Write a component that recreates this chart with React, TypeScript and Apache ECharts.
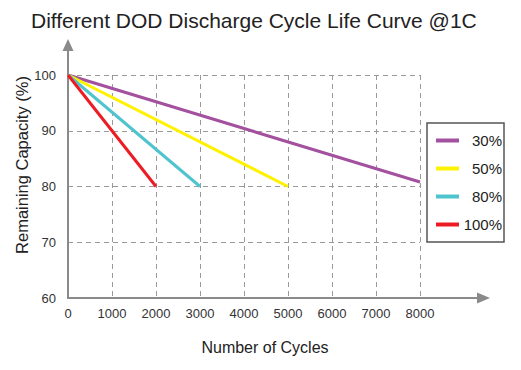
import React, { useEffect, useRef } from "react";
import * as echarts from "echarts";

const seriesNames = ["30%", "50%", "80%", "100%"];
const startCycles = [0, 0, 0, 0];
const startCapacity = [100, 100, 100, 100];
const endCycles = [8000, 5000, 3000, 2000];
const endCapacity = [80.8, 80, 80, 80];
const seriesColors = ["#a3509f", "#fff200", "#4fc4cf", "#ec1c24"];
const xMin = 0;
const xMax = 8000;
const xStep = 1000;
const yMin = 60;
const yMax = 100;
const yStep = 10;

const FONT = "'Liberation Sans', Arial, sans-serif";

export default function App() {
  const ref = useRef<HTMLDivElement>(null);
  useEffect(() => {
    if (!ref.current) return;
    const chart = echarts.init(ref.current, undefined, { renderer: "svg" });
    const option: any = {
      animation: false,
      backgroundColor: "#ffffff",
      textStyle: { fontFamily: FONT },
      title: {
        text: "Different DOD Discharge Cycle Life Curve @1C",
        left: 26,
        top: 5,
        textStyle: { fontSize: 21, fontWeight: "normal", color: "#222", fontFamily: FONT },
      },
      grid: { left: 68, right: 101, top: 75, bottom: 72 },
      legend: {
        orient: "vertical",
        left: 427,
        top: 123,
        padding: [10, 2, 10, 9],
        itemGap: 13,
        itemWidth: 23,
        itemHeight: 4,
        icon: "rect",
        backgroundColor: "#fff",
        borderColor: "#555",
        borderWidth: 1.5,
        borderRadius: 0,
        data: seriesNames,
        formatter: (n: string) => `{t|${n}}`,
        textStyle: {
          fontFamily: FONT,
          fontSize: 15,
          color: "#222",
          rich: { t: { width: 38, align: "right", fontSize: 15, lineHeight: 16, fontFamily: FONT, color: "#222" } },
        },
      },
      xAxis: {
        type: "value",
        min: xMin,
        max: xMax,
        interval: xStep,
        axisLine: { show: true, onZero: false, lineStyle: { color: "#8a8a8a", width: 2 } },
        axisTick: { show: false },
        axisLabel: { margin: 9, fontSize: 13, color: "#333", fontFamily: FONT, formatter: (v: number) => String(v) },
        splitLine: { show: true, lineStyle: { color: "#9a9a9a", type: [5, 4], width: 1 } },
      },
      yAxis: {
        type: "value",
        min: yMin,
        max: yMax,
        interval: yStep,
        axisLine: { show: true, onZero: false, lineStyle: { color: "#8a8a8a", width: 2 } },
        axisTick: { show: false },
        axisLabel: { margin: 12, fontSize: 13, color: "#333", fontFamily: FONT },
        splitLine: { show: true, lineStyle: { color: "#9a9a9a", type: [5, 4], width: 1 } },
      },
      series: seriesNames.map((name, i) => ({
        name,
        type: "line",
        symbol: "none",
        z: 5,
        lineStyle: { color: seriesColors[i], width: 3 },
        itemStyle: { color: seriesColors[i] },
        data: [
          [startCycles[i], startCapacity[i]],
          [endCycles[i], endCapacity[i]],
        ],
      })),
    };
    chart.setOption(option);
    const o = chart.convertToPixel({ gridIndex: 0 }, [xMin, yMin]) as number[];
    const tr = chart.convertToPixel({ gridIndex: 0 }, [xMax, yMax]) as number[];
    const ax = "#8a8a8a";
    const xTip = o[0] + 422;
    const yTip = o[1] - 259;
    chart.setOption({
      graphic: [
        { type: "line", shape: { x1: tr[0], y1: o[1], x2: xTip - 12, y2: o[1] }, style: { stroke: ax, lineWidth: 2 }, z: 10 },
        { type: "polygon", shape: { points: [[xTip, o[1]], [xTip - 13, o[1] - 5.5], [xTip - 13, o[1] + 5.5]] }, style: { fill: ax }, z: 10 },
        { type: "line", shape: { x1: o[0], y1: tr[1], x2: o[0], y2: yTip + 11 }, style: { stroke: ax, lineWidth: 2 }, z: 10 },
        { type: "polygon", shape: { points: [[o[0], yTip], [o[0] - 5.5, yTip + 12], [o[0] + 5.5, yTip + 12]] }, style: { fill: ax }, z: 10 },
        {
          type: "text",
          x: 22,
          y: 165,
          rotation: Math.PI / 2,
          style: { text: "Remaining Capacity (%)", font: `16.5px ${FONT}`, fill: "#222", align: "center", verticalAlign: "middle" },
        },
        {
          type: "text",
          x: 265,
          y: 347,
          style: { text: "Number of Cycles", font: `16px ${FONT}`, fill: "#222", align: "center", verticalAlign: "middle" },
        },
      ],
    });
    return () => chart.dispose();
  }, []);
  return <div ref={ref} style={{ width: 521, height: 370, position: "absolute", left: 0, top: 0 }} />;
}
